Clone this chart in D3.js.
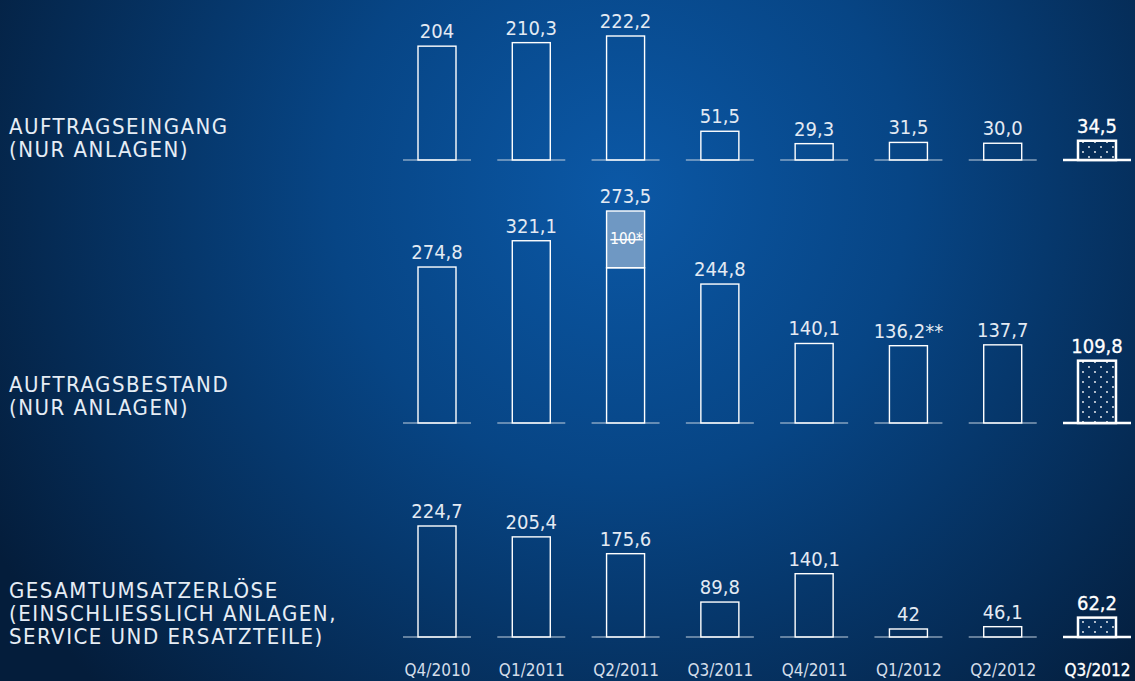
<!DOCTYPE html>
<html>
<head>
<meta charset="utf-8">
<script src="https://cdn.jsdelivr.net/npm/d3@7/dist/d3.min.js"></script>
<style>
  html, body { margin: 0; padding: 0; background: #06244a; }
  svg { display: block; }
  text { font-family: 'DejaVu Sans Condensed', 'DejaVu Sans', sans-serif; font-stretch: condensed; }
</style>
</head>
<body>
<svg id="chart" width="1135" height="681"></svg>
<script>
const quarters = ['Q4/2010', 'Q1/2011', 'Q2/2011', 'Q3/2011', 'Q4/2011', 'Q1/2012', 'Q2/2012', 'Q3/2012'];

const orderValues = [204, 210.3, 222.2, 51.5, 29.3, 31.5, 30.0, 34.5];
const orderLabels = ['204', '210,3', '222,2', '51,5', '29,3', '31,5', '30,0', '34,5'];

const backlogValues = [274.8, 321.1, 273.5, 244.8, 140.1, 136.2, 137.7, 109.8];
const backlogLabels = ['274,8', '321,1', '273,5', '244,8', '140,1', '136,2**', '137,7', '109,8'];
// extra segment stacked on Q2/2011
const backlogExtra = [0, 0, 100, 0, 0, 0, 0, 0];
const backlogExtraLabel = '100*';

const revenueValues = [224.7, 205.4, 175.6, 89.8, 140.1, 42, 46.1, 62.2];
const revenueLabels = ['224,7', '205,4', '175,6', '89,8', '140,1', '42', '46,1', '62,2'];

const panelTitles = [
  ['AUFTRAGSEINGANG', '(NUR ANLAGEN)'],
  ['AUFTRAGSBESTAND', '(NUR ANLAGEN)'],
  ['GESAMTUMSATZERLÖSE', '(EINSCHLIESSLICH ANLAGEN,', 'SERVICE UND ERSATZTEILE)']
];

const width = 1135, height = 681;
const svg = d3.select('#chart');
const defs = svg.append('defs');

const bg = defs.append('radialGradient')
  .attr('id', 'bg')
  .attr('gradientUnits', 'userSpaceOnUse')
  .attr('cx', 620).attr('cy', 190).attr('r', 720);
bg.append('stop').attr('offset', 0).attr('stop-color', '#0b58a6');
bg.append('stop').attr('offset', 0.4).attr('stop-color', '#074585');
bg.append('stop').attr('offset', 1).attr('stop-color', '#041d3b');

const pat = defs.append('pattern')
  .attr('id', 'dots')
  .attr('patternUnits', 'userSpaceOnUse')
  .attr('width', 12).attr('height', 10);
pat.append('rect').attr('width', 12).attr('height', 10).attr('fill', '#062e5a');
pat.append('circle').attr('cx', 3).attr('cy', 2).attr('r', 0.9).attr('fill', '#fff');
pat.append('circle').attr('cx', 9).attr('cy', 7).attr('r', 0.9).attr('fill', '#fff');

svg.append('rect').attr('width', width).attr('height', height).attr('fill', 'url(#bg)');

const x = d3.scalePoint().domain(quarters).range([437, 1097]);
const barW = 38, baseW = 68;
const last = quarters[quarters.length - 1];

const panels = [
  { values: orderValues, labels: orderLabels, extra: null,
    y: d3.scaleLinear().domain([0, 222.2]).range([160, 36]),
    titleY: 134 },
  { values: backlogValues, labels: backlogLabels, extra: backlogExtra,
    y: d3.scaleLinear().domain([0, 373.5]).range([423, 211]),
    titleY: 392 },
  { values: revenueValues, labels: revenueLabels, extra: null,
    y: d3.scaleLinear().domain([27.8, 224.7]).range([637, 526]),
    titleY: 598 }
];

panels.forEach((p, pi) => {
  const g = svg.append('g').attr('class', 'panel');
  const data = quarters.map((q, i) => ({
    q, v: p.values[i], label: p.labels[i], extra: p.extra ? p.extra[i] : 0
  }));
  const y = p.y;
  const base = y.range()[0];

  // titles
  g.append('text')
    .attr('x', 9).attr('y', p.titleY)
    .attr('fill', '#e6edf5')
    .style('font-size', '22px')
    .style('letter-spacing', '1.5px')
    .selectAll('tspan').data(panelTitles[pi]).join('tspan')
      .attr('x', 9)
      .attr('dy', (d, i) => i === 0 ? 0 : 23)
      .text(d => d);

  // baselines
  g.selectAll('.base').data(data).join('line')
    .attr('class', 'base')
    .attr('x1', d => x(d.q) - baseW / 2)
    .attr('x2', d => x(d.q) + baseW / 2)
    .attr('y1', base).attr('y2', base)
    .attr('stroke', d => d.q === last ? '#fff' : '#c3d1e0')
    .attr('stroke-width', d => d.q === last ? 2.5 : 1.2);

  // extra stacked segment
  g.selectAll('.extra').data(data.filter(d => d.extra > 0)).join('rect')
    .attr('class', 'extra')
    .attr('x', d => x(d.q) - barW / 2)
    .attr('y', d => y(d.v + d.extra))
    .attr('width', barW)
    .attr('height', d => y(d.v) - y(d.v + d.extra))
    .attr('fill', '#6f98c3')
    .attr('stroke', '#fff')
    .attr('stroke-width', 1.4);

  // bars
  g.selectAll('.bar').data(data).join('rect')
    .attr('class', 'bar')
    .attr('x', d => x(d.q) - barW / 2)
    .attr('y', d => y(d.v))
    .attr('width', barW)
    .attr('height', d => base - y(d.v))
    .attr('fill', d => d.q === last ? 'url(#dots)' : 'none')
    .attr('stroke', '#fff')
    .attr('stroke-width', d => d.q === last ? 2.5 : 1.4);

  g.selectAll('.extra-label').data(data.filter(d => d.extra > 0)).join('text')
    .attr('class', 'extra-label')
    .attr('x', d => x(d.q) + 1)
    .attr('y', d => (y(d.v) + y(d.v + d.extra)) / 2 + 5)
    .attr('text-anchor', 'middle')
    .attr('fill', '#fff')
    .style('font-size', '15px')
    .style('text-decoration', 'line-through')
    .text(backlogExtraLabel);

  // value labels
  g.selectAll('.val').data(data).join('text')
    .attr('class', 'val')
    .attr('x', d => x(d.q))
    .attr('y', d => y(d.v + d.extra) - 8)
    .attr('text-anchor', 'middle')
    .attr('fill', d => d.q === last ? '#fff' : '#e3eaf3')
    .attr('stroke', d => d.q === last ? '#fff' : 'none')
    .attr('stroke-width', 0.3)
    .style('font-size', '20px')
    .text(d => d.label);
});

// category axis under the last panel
const xAxis = d3.axisBottom(x).tickSize(0).tickPadding(0);
const axisG = svg.append('g')
  .attr('transform', 'translate(0, 664)')
  .call(xAxis);
axisG.select('.domain').remove();
axisG.selectAll('text')
  .attr('fill', d => d === last ? '#fff' : '#d3dde9')
  .attr('stroke', d => d === last ? '#fff' : 'none')
  .attr('stroke-width', 0.3)
  .style('font-size', '17px');
</script>
</body>
</html>
